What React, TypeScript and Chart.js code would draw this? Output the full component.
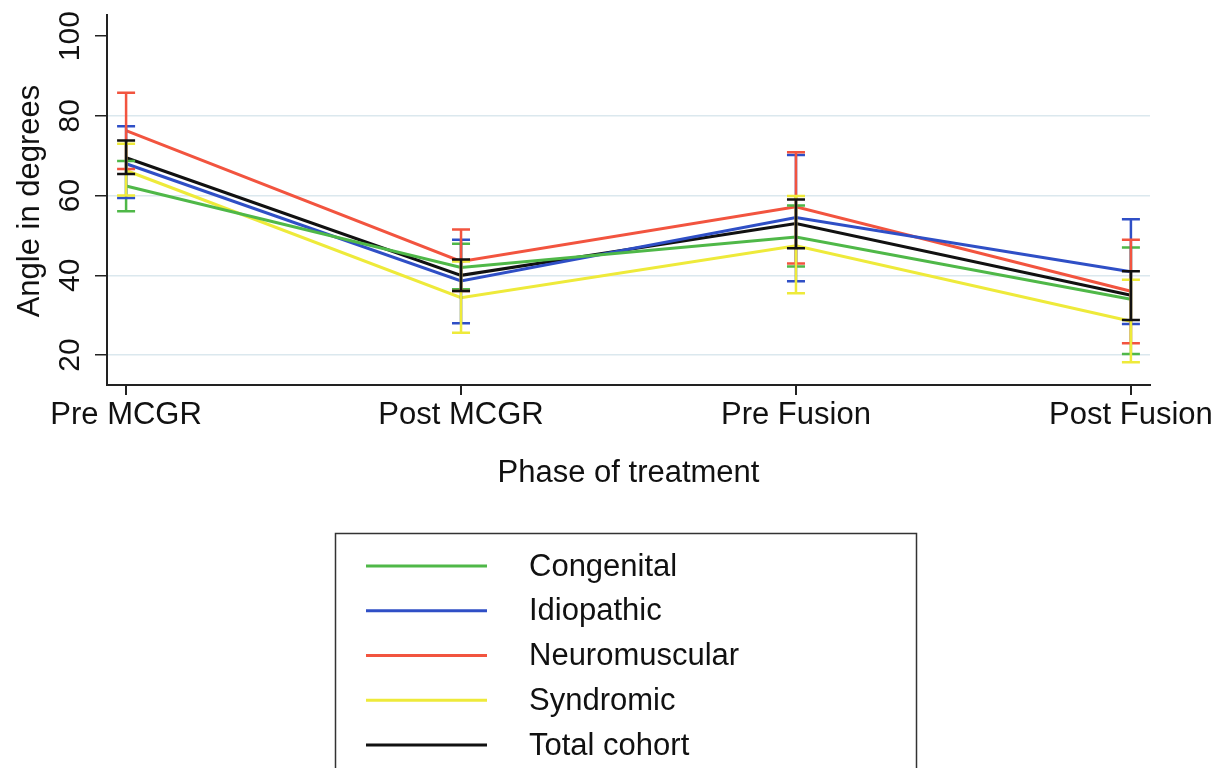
import React, { useEffect, useRef } from "react";
import { Chart, registerables } from "chart.js";

Chart.register(...registerables);

const categories = ["Pre MCGR", "Post MCGR", "Pre Fusion", "Post Fusion"];
const seriesNames = ["Congenital", "Idiopathic", "Neuromuscular", "Syndromic", "Total cohort"];
const seriesColors = ["#4fb848", "#2f4fc6", "#f2543f", "#eeea3a", "#111111"];

const congenitalMean = [62.4, 42.0, 49.6, 34.0];
const congenitalLo = [56.1, 36.5, 42.2, 20.3];
const congenitalHi = [68.7, 47.9, 57.5, 47.0];

const idiopathicMean = [68.0, 38.6, 54.5, 40.9];
const idiopathicLo = [59.4, 28.0, 38.5, 27.8];
const idiopathicHi = [77.4, 48.9, 70.2, 54.1];

const neuromuscularMean = [76.3, 43.5, 57.2, 36.0];
const neuromuscularLo = [66.7, 36.1, 43.0, 23.0];
const neuromuscularHi = [85.8, 51.5, 70.9, 48.9];

const syndromicMean = [66.3, 34.4, 47.4, 28.5];
const syndromicLo = [60.0, 25.6, 35.5, 18.2];
const syndromicHi = [73.0, 43.5, 59.9, 38.9];

const totalMean = [69.5, 40.0, 53.0, 35.0];
const totalLo = [65.4, 36.1, 46.8, 28.8];
const totalHi = [73.8, 44.0, 59.0, 41.0];

const yTickValues = [20, 40, 60, 80, 100];
const yTitle = "Angle in degrees";
const xTitle = "Phase of treatment";

const means = [congenitalMean, idiopathicMean, neuromuscularMean, syndromicMean, totalMean];
const lows = [congenitalLo, idiopathicLo, neuromuscularLo, syndromicLo, totalLo];
const highs = [congenitalHi, idiopathicHi, neuromuscularHi, syndromicHi, totalHi];

const FONT = '"Liberation Sans", Arial, Helvetica, sans-serif';

export default function App() {
  const ref = useRef<HTMLCanvasElement>(null);

  useEffect(() => {
    document.body.style.margin = "0";
    const canvas = ref.current;
    if (!canvas) return;

    const errorBars = {
      id: "errorBars",
      afterDatasetsDraw(chart: any) {
        const ctx = chart.ctx;
        const xs = chart.scales.x;
        const ys = chart.scales.y;
        ctx.save();
        ctx.lineWidth = 2.5;
        ctx.lineCap = "butt";
        for (let i = 0; i < means.length; i++) {
          ctx.strokeStyle = seriesColors[i];
          for (let j = 0; j < categories.length; j++) {
            const x = xs.getPixelForValue(j);
            const yl = ys.getPixelForValue(lows[i][j]);
            const yh = ys.getPixelForValue(highs[i][j]);
            ctx.beginPath();
            ctx.moveTo(x, yl);
            ctx.lineTo(x, yh);
            ctx.moveTo(x - 9, yl);
            ctx.lineTo(x + 9, yl);
            ctx.moveTo(x - 9, yh);
            ctx.lineTo(x + 9, yh);
            ctx.stroke();
          }
        }
        ctx.restore();
      },
    };

    const texts = {
      id: "texts",
      afterDraw(chart: any) {
        const ctx = chart.ctx;
        const ys = chart.scales.y;
        const area = chart.chartArea;
        ctx.save();
        ctx.fillStyle = "#111";
        ctx.font = `30px ${FONT}`;
        ctx.textAlign = "center";
        ctx.textBaseline = "middle";
        for (const v of yTickValues) {
          const y = ys.getPixelForValue(v);
          ctx.save();
          ctx.translate(71, y);
          ctx.rotate(-Math.PI / 2);
          ctx.fillText(String(v), 0, 0);
          ctx.restore();
        }
        ctx.font = `31px ${FONT}`;
        ctx.save();
        ctx.translate(30, (area.top + area.bottom) / 2 + 1);
        ctx.rotate(-Math.PI / 2);
        ctx.fillText(yTitle, 0, 0);
        ctx.restore();
        ctx.font = `31px ${FONT}`;
        ctx.fillText(xTitle, (area.left + area.right) / 2, 473);

        ctx.strokeStyle = "#333";
        ctx.lineWidth = 1.5;
        ctx.strokeRect(335.5, 533.5, 581, 260);
        ctx.textAlign = "left";
        ctx.font = `31px ${FONT}`;
        chart.data.datasets.forEach((ds: any, i: number) => {
          const y = 566 + i * 44.75;
          ctx.strokeStyle = ds.borderColor;
          ctx.lineWidth = 3;
          ctx.beginPath();
          ctx.moveTo(366, y);
          ctx.lineTo(487, y);
          ctx.stroke();
          ctx.fillStyle = "#111";
          ctx.fillText(ds.label, 529, y + 1);
        });
        ctx.restore();
      },
    };

    const chart = new Chart(canvas, {
      type: "line",
      data: {
        datasets: means.map((m, i) => ({
          label: seriesNames[i],
          data: m.map((v, j) => ({ x: j, y: v })),
          borderColor: seriesColors[i],
          backgroundColor: seriesColors[i],
          borderWidth: 3,
          pointRadius: 0,
          tension: 0,
          fill: false,
        })),
      },
      options: {
        animation: false,
        responsive: true,
        maintainAspectRatio: false,
        layout: { padding: { top: 15, right: 73, left: 0, bottom: 0 } },
        plugins: {
          legend: { display: false },
          tooltip: { enabled: false },
          title: { display: false },
        },
        scales: {
          x: {
            type: "linear",
            min: -0.057,
            max: 3.057,
            afterBuildTicks: (scale: any) => {
              scale.ticks = categories.map((_, j) => ({ value: j }));
            },
            afterFit: (scale: any) => {
              scale.height = 383;
            },
            ticks: {
              callback: (v: any) => categories[v] ?? "",
              font: { size: 31, family: FONT },
              color: "#111",
              padding: 2,
              maxRotation: 0,
              minRotation: 0,
              autoSkip: false,
            },
            grid: {
              drawOnChartArea: false,
              drawTicks: true,
              tickLength: 10,
              tickColor: "#222",
              lineWidth: 2,
            },
            border: { display: true, color: "#222", width: 2 },
          },
          y: {
            type: "linear",
            min: 12.5,
            max: 105.3,
            afterBuildTicks: (scale: any) => {
              scale.ticks = yTickValues.map((v) => ({ value: v }));
            },
            afterFit: (scale: any) => {
              scale.width = 107;
            },
            ticks: { display: false },
            grid: {
              color: (c: any) => (c.tick && c.tick.value === 100 ? "rgba(0,0,0,0)" : "#dbe8ee"),
              lineWidth: 1.5,
              drawTicks: true,
              tickLength: 12,
              tickColor: "#222",
            },
            border: { display: true, color: "#222", width: 2 },
          },
        },
      },
      plugins: [errorBars, texts],
    });

    return () => chart.destroy();
  }, []);

  return (
    <div style={{ position: "absolute", left: 0, top: 0, width: 1223, height: 768, background: "#fff" }}>
      <canvas ref={ref} />
    </div>
  );
}
